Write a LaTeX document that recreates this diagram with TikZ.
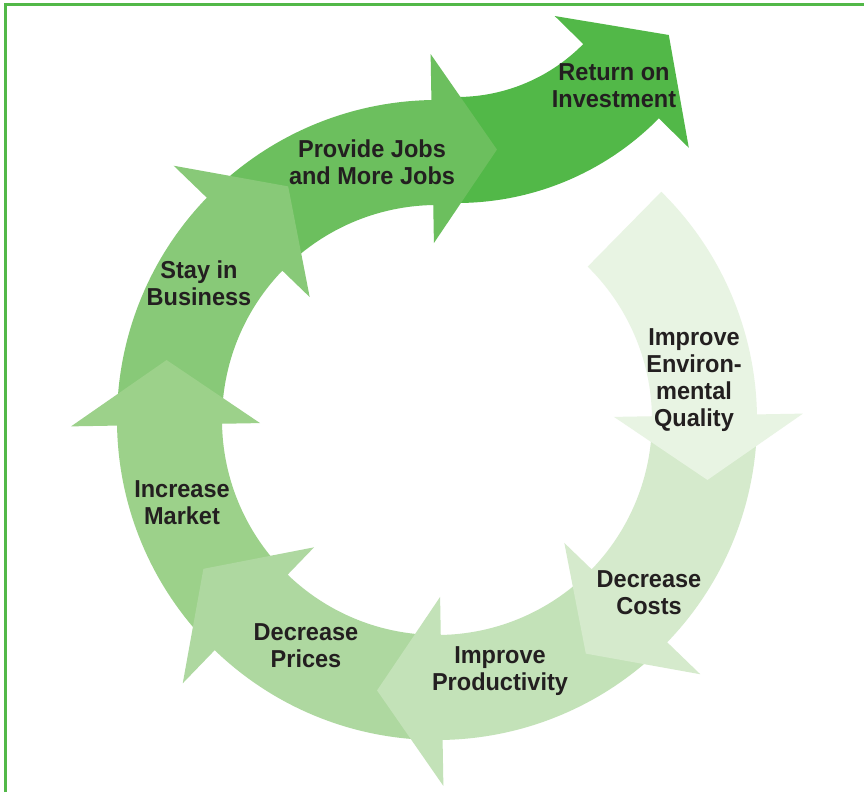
\documentclass[tikz,border=0pt]{standalone}
\usepackage{fontspec}
\setmainfont{Liberation Sans}[FakeStretch=0.96]
\definecolor{cROI}{RGB}{82,184,72}
\definecolor{cPJ}{RGB}{108,191,94}
\definecolor{cSIB}{RGB}{136,201,120}
\definecolor{cIM}{RGB}{156,209,138}
\definecolor{cDP}{RGB}{174,216,160}
\definecolor{cIP}{RGB}{195,226,184}
\definecolor{cDC}{RGB}{213,234,204}
\definecolor{cENV}{RGB}{232,244,227}
\definecolor{txt}{RGB}{35,31,32}
\tikzset{
  lbl/.style={font=\fontsize{24.5}{27}\selectfont\bfseries, text=txt, align=center, inner sep=0pt},
  frameline/.style={draw=cROI, line width=3pt, line join=miter},
}
\newcommand\ringarrow[3]{%
  \pgfmathsetmacro\tipang{#3-13.5}%
  \fill[#1] (#2:215) arc[start angle=#2,end angle=#3,radius=215] -- (#3:177) -- (\tipang:277) -- (#3:366) -- (#3:320) arc[start angle=#3,end angle=#2,radius=320] -- cycle;}
\begin{document}
\begin{tikzpicture}[x=1pt,y=1pt]
\useasboundingbox (0,0) rectangle (864,792);
\fill[white] (0,0) rectangle (864,792);
\draw[frameline] (5,0) -- (5,787.3) -- (864,787.3);
% Return on Investment arrow (bottom layer)
\begin{scope}[shift={(457,872)}]
\fill[cROI] (-93:177) arc[start angle=-93,end angle=-44.5,radius=177] -- (-44.5:137) -- (-28.5:241) -- (-44.5:325) -- (-44.5:283) arc[start angle=-44.5,end angle=-93,radius=283] -- cycle;
\end{scope}
% ring segments, later ones on top
\begin{scope}[shift={(437,372)}]
\ringarrow{cPJ}{-227}{-269}
\ringarrow{cSIB}{-182}{-224}
\ringarrow{cIM}{-137}{-179}
\ringarrow{cDP}{-92}{-134}
\ringarrow{cIP}{-47}{-89}
\ringarrow{cDC}{-2}{-44}
\ringarrow{cENV}{45.5}{1}
\end{scope}
% labels
\node[lbl] (roi) at (614,706) {Return on\\Investment};
\node[lbl] (pj) at (372,629.5) {Provide Jobs\\and More Jobs};
\node[lbl] (sib) at (199,508.5) {Stay in\\Business};
\node[lbl] (im) at (182,289) {Increase\\Market};
\node[lbl] (dp) at (306,146) {Decrease\\Prices};
\node[lbl] (ip) at (500,121) {Improve\\Productivity};
\node[lbl] (dc) at (649,199) {Decrease\\Costs};
\node[lbl] (env) at (694,412) {Improve\\Environ-\\mental\\Quality};
\end{tikzpicture}
\end{document}
